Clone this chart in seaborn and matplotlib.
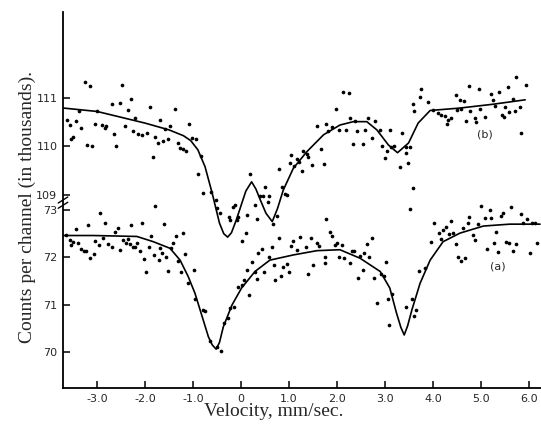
import numpy as np
import pandas as pd
import matplotlib
matplotlib.use("Agg")
import matplotlib.pyplot as plt
import seaborn as sns

# ---- spectrum (b): measured counts (thousands) vs velocity (mm/sec) ----
xb = [-3.26, -3.15, -2.49, -2.29, -2.69, -2.53, -1.90, -1.38, -2.35, -3.01, -3.38, -3.63,
      -3.43, -3.57, -3.05, -2.89, -2.84, -2.82, -3.33, -2.42, -2.21, -1.69, -1.49, -1.59,
      -1.08, -2.25, -2.15, -2.06, -1.97, -1.80, -1.63, -1.74, -1.52, -1.31, -1.28, -1.21,
      -1.15, -1.03, -0.93, -3.50, -3.54, -3.22, -3.10, -2.65, -2.60, -1.83, -0.83, -0.90,
      -0.79, -0.63, -0.53, -0.50, -0.44,
      -0.26, -0.13, -0.16, -0.06, -0.09, -0.23, 0.01, 0.10, 0.19, 0.29, 0.12, 0.34, 0.50,
      0.40, 0.45, 0.59, 0.57, 0.74, 0.67, 0.80, 0.85, 0.92, 0.95, 1.04, 1.17, 1.01, 1.10,
      1.20, 1.26, 1.47, 1.72, 1.30, 1.38, 1.40, 1.67, 1.58, 1.77, 1.89, 1.82, 2.04, 2.19,
      2.42, 2.58, 2.72, 2.34, 2.54, 1.98, 2.13, 2.24, 2.27, 2.38, 2.65, 2.79,
      2.89, 3.10, 3.35, 2.94, 3.05, 3.13, 3.19, 2.99, 3.44, 3.51, 3.44, 3.48, 3.31, 3.58,
      3.74, 3.72, 3.90, 3.58, 3.60, 4.00, 4.10, 4.17, 4.24, 4.31, 4.38, 4.30, 4.49, 4.59,
      4.57, 4.65, 4.47, 4.69, 4.78, 4.87, 4.90, 4.97, 4.96, 4.76, 5.09, 5.21, 5.25, 5.29,
      5.37, 5.44, 5.48, 5.51, 5.56, 5.58, 5.67, 5.71, 5.72, 5.81, 5.84, 5.93]
yb = [111.32, 111.25, 111.27, 110.98, 110.87, 110.90, 110.82, 110.78, 110.74, 110.72, 110.72, 110.55,
      110.52, 110.44, 110.46, 110.44, 110.37, 110.41, 110.37, 110.42, 110.58, 110.55, 110.41, 110.35,
      110.47, 110.31, 110.26, 110.24, 110.28, 110.19, 110.12, 110.07, 110.16, 110.08, 109.96, 109.94,
      109.91, 110.17, 110.16, 110.19, 110.15, 110.02, 110.00, 110.26, 110.00, 109.78, 109.80, 109.43,
      109.03, 109.05, 108.90, 108.73, 108.62,
      108.54, 108.79, 108.76, 108.55, 108.48, 108.48, 108.04, 108.21, 109.43, 108.79, 108.59, 108.50, 109.17,
      108.98, 108.98, 108.98, 108.86, 108.57, 108.40, 109.53, 109.17, 109.01, 109.00, 109.82, 109.74, 109.65, 109.60,
      109.67, 109.49, 109.62, 109.63, 109.91, 109.85, 109.79, 109.94, 110.42, 110.46, 110.40, 110.31, 110.33, 110.33,
      110.32, 110.33, 110.17, 110.04, 110.04, 110.78, 111.13, 111.10, 110.58, 110.53, 110.58, 110.53,
      110.34, 110.33, 110.28, 110.00, 109.91, 109.98, 110.01, 109.76, 109.98, 109.98, 109.86, 109.65, 109.57, 109.15,
      111.19, 111.01, 110.92, 110.87, 110.72, 110.74, 110.68, 110.65, 110.63, 110.55, 110.58, 110.46, 110.75, 110.77,
      110.96, 110.94, 111.05, 110.53, 110.72, 110.58, 110.51, 110.77, 111.18, 111.25, 110.60, 111.08, 110.96, 110.84,
      111.13, 110.65, 110.60, 110.82, 111.22, 110.70, 110.97, 110.72, 111.44, 110.82, 110.27, 111.27]

# fitted curve (b)
xb_fit = [-3.70, -3.00, -2.00, -1.50, -1.20, -1.05, -0.90, -0.75, -0.60, -0.45, -0.36, -0.28,
          -0.20, -0.10, 0.00, 0.10, 0.22, 0.31, 0.40, 0.52, 0.65, 0.76, 0.88, 1.09, 1.37,
          1.72, 2.06, 2.34, 2.62, 2.83, 3.07, 3.26, 3.49, 3.69, 3.94, 4.56, 5.26, 5.92]
yb_fit = [110.79, 110.72, 110.48, 110.34, 110.22, 110.12, 109.93, 109.58, 109.03, 108.42, 108.20, 108.13,
          108.22, 108.48, 108.78, 109.08, 109.27, 109.12, 108.90, 108.62, 108.45, 108.72, 109.10, 109.55, 109.89,
          110.24, 110.44, 110.51, 110.51, 110.34, 110.03, 109.87, 110.07, 110.48, 110.74, 110.79, 110.87, 110.96]

# ---- spectrum (a) ----
xa = [-1.80, -2.94, -2.84, -3.19, -3.44, -2.06, -2.29, -1.61, -2.56, -2.63, -1.21, -1.35, -1.87,
      -3.65, -3.57, -3.50, -3.40, -3.54, -3.33, -3.28, -3.24, -3.07, -3.15, -3.04, -2.97, -2.77,
      -2.68, -2.88, -2.53, -2.46, -2.40, -2.35, -2.32, -2.25, -2.17, -2.21, -2.11, -1.92, -2.02,
      -1.99, -1.82, -1.71, -1.65, -1.57, -1.69, -1.47, -1.42, -1.52, -1.31, -1.26, -1.16, -1.11,
      -0.99, -0.96, -0.79, -0.76, -0.65, -0.51, -0.41,
      -0.35, -0.28, -0.24, -0.15, -0.06, 0.03, 0.06, 0.17, 0.12, 0.22, 0.33, 0.29, 0.35, 0.43,
      0.47, 0.64, 0.58, 0.71, 0.69, 0.80, 0.83, 0.87, 0.95, 0.99, 1.04, 1.09, 1.23, 1.17, 1.35,
      1.45, 1.49, 1.39, 1.59, 1.63, 1.74, 1.75, 1.78, 1.85, 1.89, 1.96, 2.00, 2.10, 2.05, 2.15,
      2.26, 2.31, 2.36, 2.48, 2.56, 2.62, 2.72, 2.67, 2.54, 2.43, 2.76, 2.83,
      3.53, 4.99, 5.18, 5.46, 5.42, 5.63, 5.83, 5.96, 4.76, 4.73, 5.08, 5.21, 4.94, 4.37, 4.02,
      4.28, 4.21, 4.13, 4.33, 4.42, 4.63, 4.17, 3.96, 4.47, 4.83, 4.87, 5.32, 5.27, 5.13, 5.35,
      5.53, 5.58, 5.72, 5.67, 6.03, 6.17, 4.52, 4.58, 4.67, 5.88, 6.06, 6.12, 3.01, 2.91, 2.98,
      3.70, 3.83, 3.06, 3.15, 3.08, 3.44, 3.56, 3.65, 3.60]
ya = [73.09, 72.94, 72.73, 72.68, 72.59, 72.73, 72.68, 72.70, 72.61, 72.53, 72.51, 72.45, 72.44,
      72.47, 72.37, 72.33, 72.30, 72.26, 72.17, 72.14, 72.13, 72.07, 71.98, 72.35, 72.26, 72.28,
      72.22, 72.40, 72.16, 72.37, 72.31, 72.38, 72.28, 72.22, 72.31, 72.21, 72.14, 72.22, 71.97,
      71.68, 72.05, 71.94, 72.10, 72.00, 72.20, 72.19, 72.31, 71.72, 71.92, 71.68, 72.06, 71.45,
      71.73, 71.12, 70.89, 70.87, 70.23, 70.10, 70.03,
      70.62, 70.71, 70.92, 70.94, 71.37, 71.42, 71.52, 71.20, 71.73, 71.91, 71.54, 71.70, 72.10, 72.17,
      71.68, 72.22, 72.01, 71.52, 71.84, 72.41, 71.61, 71.80, 71.86, 71.70, 72.24, 72.35, 72.42, 72.16, 72.21,
      72.40, 71.84, 71.65, 72.30, 72.24, 72.00, 71.89, 72.80, 72.54, 72.45, 72.26, 72.30, 72.26, 72.01, 71.98,
      71.87, 72.14, 72.14, 72.03, 72.10, 72.28, 72.41, 72.00, 71.73, 71.56, 71.57, 71.04,
      73.01, 73.08, 73.00, 72.94, 72.87, 73.07, 72.92, 72.81, 72.86, 72.73, 72.82, 72.82, 72.70, 72.77, 72.73,
      72.63, 72.58, 72.52, 72.49, 72.51, 72.61, 72.38, 72.33, 72.28, 72.47, 72.37, 72.53, 72.30, 72.18, 72.11,
      72.33, 72.30, 72.28, 72.14, 72.10, 72.31, 72.00, 71.93, 71.99, 72.73, 72.72, 72.72, 71.90, 71.65, 71.61,
      71.72, 71.77, 71.11, 71.22, 70.57, 70.96, 71.12, 70.89, 70.75]

# fitted curve (a)
xa_fit = [-3.70, -3.08, -2.17, -1.83, -1.48, -1.27, -1.10, -0.96, -0.82, -0.68, -0.60, -0.52,
          -0.45, -0.37, -0.19, 0.01, 0.29, 0.60, 1.09, 1.58, 2.06, 2.48, 2.90, 3.10, 3.24,
          3.33, 3.40, 3.47, 3.56, 3.73, 3.94, 4.21, 4.56, 5.05, 5.60, 6.23]
ya_fit = [72.46, 72.46, 72.44, 72.33, 72.19, 71.94, 71.59, 71.24, 70.78, 70.32, 70.15, 70.06,
          70.20, 70.53, 70.99, 71.35, 71.70, 71.94, 72.05, 72.14, 72.16, 71.98, 71.70, 71.35, 70.82,
          70.52, 70.36, 70.55, 70.89, 71.45, 71.94, 72.33, 72.51, 72.66, 72.70, 72.70]

x_ticks = [-3.0, -2.0, -1.0, 0.0, 1.0, 2.0, 3.0, 4.0, 5.0, 6.0]
x_tick_labels = ["-3.0", "-2.0", "-1.0", "0", "1.0", "2.0", "3.0", "4.0", "5.0", "6.0"]
a_ticks = [70, 71, 72, 73]
b_ticks = [109, 110, 111]

sns.set_style("ticks")
plt.rcParams["font.family"] = ["DejaVu Sans"]

fig = plt.figure(figsize=(5.41, 4.30), dpi=100)
ax = fig.add_axes([63 / 541, 42 / 430, 478 / 541, 376 / 430])
axb = ax.twinx()
axb.patch.set_visible(False)

dot = dict(color="black", s=7, linewidth=0, marker="o")
line = dict(color="black", linewidth=1.2, estimator=None, sort=False)

sns.scatterplot(data=pd.DataFrame({"v": xa, "c": ya}), x="v", y="c", ax=ax, **dot)
sns.lineplot(data=pd.DataFrame({"v": xa_fit, "c": ya_fit}), x="v", y="c", ax=ax, **line)
sns.scatterplot(data=pd.DataFrame({"v": xb, "c": yb}), x="v", y="c", ax=axb, **dot)
sns.lineplot(data=pd.DataFrame({"v": xb_fit, "c": yb_fit}), x="v", y="c", ax=axb, **line)

ax.set_xlim(-3.71, 6.25)
ax.set_ylim(69.24, 77.18)
axb.set_ylim(105.02, 112.77)

for a in (ax, axb):
    a.set_xlabel("")
    a.set_ylabel("")
    for s in ("top", "right"):
        a.spines[s].set_visible(False)
axb.spines["left"].set_visible(False)
axb.spines["bottom"].set_visible(False)
for s in ("left", "bottom"):
    ax.spines[s].set_linewidth(1.3)
    ax.spines[s].set_color("black")

ax.set_xticks(x_ticks)
ax.set_xticklabels(x_tick_labels)
ax.set_yticks(a_ticks)
ax.set_yticklabels([str(t) for t in a_ticks])
axb.set_yticks(b_ticks)
axb.set_yticklabels([str(t) for t in b_ticks])
axb.yaxis.set_ticks_position("left")
axb.yaxis.set_label_position("left")

tick_kw = dict(direction="in", length=5, width=1.1, color="black", labelsize=8)
ax.tick_params(axis="x", pad=4, **tick_kw)
ax.tick_params(axis="y", pad=4, **tick_kw)
axb.tick_params(axis="y", pad=4, left=True, labelleft=True, right=False, labelright=False, **tick_kw)

# break in the vertical axis between the two scales
for yf in (0.500, 0.486):
    ax.plot([-0.010, 0.010], [yf - 0.008, yf + 0.008], transform=ax.transAxes,
            color="black", linewidth=1.0, clip_on=False)

axb.text(5.08, 110.24, "(b)", fontsize=8, ha="center", va="center")
ax.text(5.35, 71.80, "(a)", fontsize=8, ha="center", va="center")

fig.text(27 / 541, 1 - 207 / 430, "Counts per channel (in thousands).", rotation=90,
         ha="center", va="center", fontsize=14, family="Liberation Serif")
fig.text(274 / 541, 1 - 412 / 430, "Velocity, mm/sec.", ha="center", va="center",
         fontsize=14, family="Liberation Serif")

fig.savefig("out.png", dpi=100)
